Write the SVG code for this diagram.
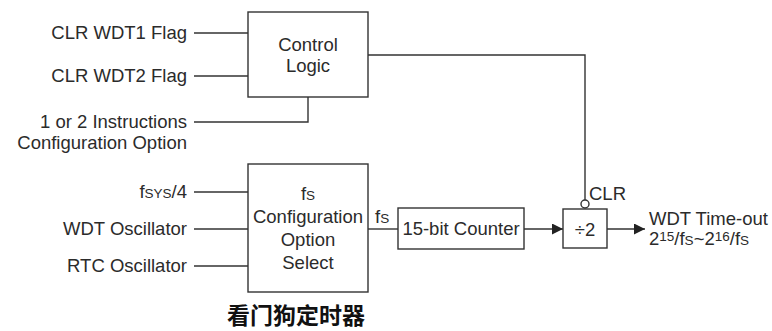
<svg xmlns="http://www.w3.org/2000/svg" width="772" height="331" viewBox="0 0 772 331">
<style>
.t{font-family:"Liberation Sans",Arial,sans-serif;font-size:18.5px;fill:#2b2b2b}
.e{text-anchor:end}
.m{text-anchor:middle}
.sm{font-size:13.5px}
.box{fill:#fff;stroke:#333;stroke-width:1.4}
.ln{fill:none;stroke:#333;stroke-width:1.4}
</style>
<defs>
<marker id="ah" viewBox="0 0 10 10" refX="10" refY="5" markerWidth="11" markerHeight="11" markerUnits="userSpaceOnUse" orient="auto">
<path d="M0,0 L10,5 L0,10 Z" fill="#222"/>
</marker>
</defs>
<rect width="772" height="331" fill="#fff"/>
<g id="connectors">
<path class="ln" d="M194,33 H248"/>
<path class="ln" d="M194,76 H248"/>
<path class="ln" d="M194,122 H308 V97"/>
<path class="ln" d="M368,55 H585 V200"/>
<path class="ln" d="M194,192 H248"/>
<path class="ln" d="M194,229 H248"/>
<path class="ln" d="M194,266 H248"/>
<path class="ln" d="M368,229 H398"/>
<path class="ln" d="M524,229 H563" marker-end="url(#ah)"/>
<path class="ln" d="M607,229 H645" marker-end="url(#ah)"/>
</g>
<g id="inputs">
<text class="t e" x="187" y="39">CLR WDT1 Flag</text>
<text class="t e" x="187" y="82">CLR WDT2 Flag</text>
<text class="t e" x="187" y="128">1 or 2 Instructions</text>
<text class="t e" x="187" y="149">Configuration Option</text>
<text class="t e" x="187" y="198">f<tspan class="sm">SYS</tspan>/4</text>
<text class="t e" x="187" y="235">WDT Oscillator</text>
<text class="t e" x="187" y="272">RTC Oscillator</text>
</g>
<g id="control-logic">
<rect class="box" x="248" y="12" width="120" height="85"/>
<text class="t m" x="308" y="51">Control</text>
<text class="t m" x="308" y="72">Logic</text>
</g>
<g id="fs-select">
<rect class="box" x="248" y="164" width="120" height="128"/>
<text class="t m" x="308" y="200">f<tspan class="sm">S</tspan></text>
<text class="t m" x="308" y="223">Configuration</text>
<text class="t m" x="308" y="246">Option</text>
<text class="t m" x="308" y="269">Select</text>
</g>
<g id="fs-label">
<text class="t" x="375" y="223">f<tspan class="sm">S</tspan></text>
</g>
<g id="counter">
<rect class="box" x="398" y="208" width="126" height="41"/>
<text class="t m" x="461" y="235">15-bit Counter</text>
</g>
<g id="div2">
<rect class="box" x="563" y="209" width="44" height="39"/>
<text class="t m" x="585" y="236">÷2</text>
<circle cx="585" cy="204" r="4" fill="#fff" stroke="#333" stroke-width="1.4"/>
<text class="t" x="589" y="200">CLR</text>
</g>
<g id="output">
<text class="t" x="649" y="225">WDT Time-out</text>
<text class="t" x="649" y="245">2<tspan class="sm" dy="-4">15</tspan><tspan dy="4">/f</tspan><tspan class="sm">S</tspan>~2<tspan class="sm" dy="-4">16</tspan><tspan dy="4">/f</tspan><tspan class="sm">S</tspan></text>
</g>
<g id="title">
<text x="296" y="324" text-anchor="middle" style="font-family:'Noto Sans CJK SC',sans-serif;font-size:23px;font-weight:bold;fill:#111">看门狗定时器</text>
</g>
</svg>
